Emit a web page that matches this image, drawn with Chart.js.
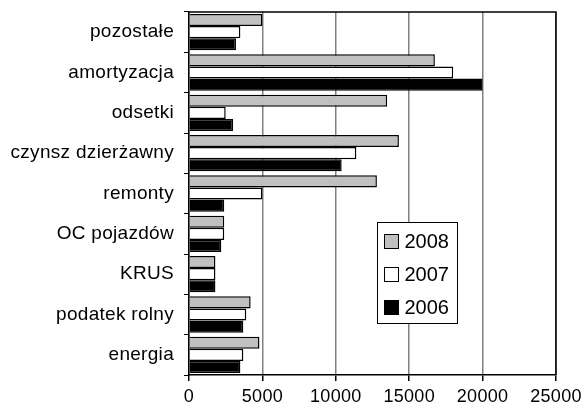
<!DOCTYPE html>
<html>
<head>
<meta charset="utf-8">
<script src="https://cdn.jsdelivr.net/npm/chart.js@4/dist/chart.umd.min.js"></script>
<style>
  html, body { margin: 0; padding: 0; background: #fff; }
  #wrap { width: 586px; height: 413px; }
</style>
</head>
<body>
<div id="wrap"><canvas id="chart"></canvas></div>
<script>
const categories = ['pozostałe', 'amortyzacja', 'odsetki', 'czynsz dzierżawny', 'remonty', 'OC pojazdów', 'KRUS', 'podatek rolny', 'energia'];
const years = ['2008', '2007', '2006'];
const values2008 = [5000, 16750, 13500, 14300, 12800, 2400, 1800, 4200, 4800];
const values2007 = [3500, 18000, 2500, 11400, 5000, 2400, 1800, 3900, 3700];
const values2006 = [3200, 20000, 3000, 10400, 2400, 2200, 1800, 3700, 3500];
const xTicks = [0, 5000, 10000, 15000, 20000, 25000];

const FONT = '"Liberation Sans", Arial, sans-serif';
const fills = ['#c0c0c0', '#ffffff', '#000000'];

// wider letter spacing like the original rendering
const spacing = {
    id: 'spacing',
    beforeDraw(chart) { chart.ctx.letterSpacing = '0.3px'; }
};

// legend box inside the plot + frame around the plot area
const boxLegend = {
    id: 'boxLegend',
    afterDraw(chart) {
        const ctx = chart.ctx;
        const a = chart.chartArea;
        ctx.save();
        ctx.letterSpacing = '0px';
        ctx.strokeStyle = '#000';
        ctx.lineWidth = 1.5;
        ctx.beginPath();
        ctx.moveTo(a.left, a.top);
        ctx.lineTo(a.right, a.top);
        ctx.lineTo(a.right, a.bottom);
        ctx.stroke();

        ctx.lineWidth = 1;
        const lx = 377.5, ly = 222.5, lw = 80, lh = 101;
        ctx.fillStyle = '#fff';
        ctx.fillRect(lx, ly, lw, lh);
        ctx.strokeRect(lx, ly, lw, lh);
        ctx.font = '20px ' + FONT;
        ctx.textBaseline = 'middle';
        chart.data.datasets.forEach((ds, i) => {
            const cy = ly + 19 + i * 33;
            ctx.fillStyle = ds.backgroundColor;
            ctx.fillRect(lx + 7, cy - 7, 14, 14);
            ctx.strokeRect(lx + 7, cy - 7, 14, 14);
            ctx.fillStyle = '#000';
            ctx.fillText(ds.label, lx + 27, cy + 1);
        });
        ctx.restore();
    }
};

const chart = new Chart(document.getElementById('chart'), {
    type: 'bar',
    data: {
        labels: categories,
        datasets: [
            { label: years[0], data: values2008, backgroundColor: fills[0] },
            { label: years[1], data: values2007, backgroundColor: fills[1] },
            { label: years[2], data: values2006, backgroundColor: fills[2] }
        ]
    },
    options: {
        indexAxis: 'y',
        responsive: true,
        maintainAspectRatio: false,
        animation: false,
        layout: { padding: { top: 12, right: 27, left: 0, bottom: 0 } },
        datasets: {
            bar: {
                borderColor: '#000',
                borderWidth: 1.5,
                categoryPercentage: 0.9,
                barPercentage: 1.0
            }
        },
        plugins: {
            legend: { display: false },
            tooltip: { enabled: false }
        },
        scales: {
            x: {
                min: 0,
                max: 25000,
                afterBuildTicks(scale) { scale.ticks = xTicks.map(v => ({ value: v })); },
                afterFit(scale) { scale.height = 38; },
                ticks: {
                    color: '#000',
                    font: { family: FONT, size: 18 },
                    padding: 5,
                    maxRotation: 0,
                    callback: v => String(v)
                },
                grid: {
                    color: '#808080',
                    lineWidth: 1.5,
                    tickLength: 6,
                    tickColor: '#000'
                },
                border: { color: '#000', width: 1.5 }
            },
            y: {
                afterFit(scale) {
                    scale.width = 189;
                    scale.paddingTop = 0;
                    scale.paddingBottom = 0;
                },
                ticks: {
                    color: '#000',
                    font: { family: FONT, size: 19 },
                    padding: 10
                },
                grid: {
                    drawOnChartArea: false,
                    tickLength: 5,
                    tickColor: '#000',
                    lineWidth: 1
                },
                border: { color: '#000', width: 1.5 }
            }
        }
    },
    plugins: [spacing, boxLegend]
});
</script>
</body>
</html>
